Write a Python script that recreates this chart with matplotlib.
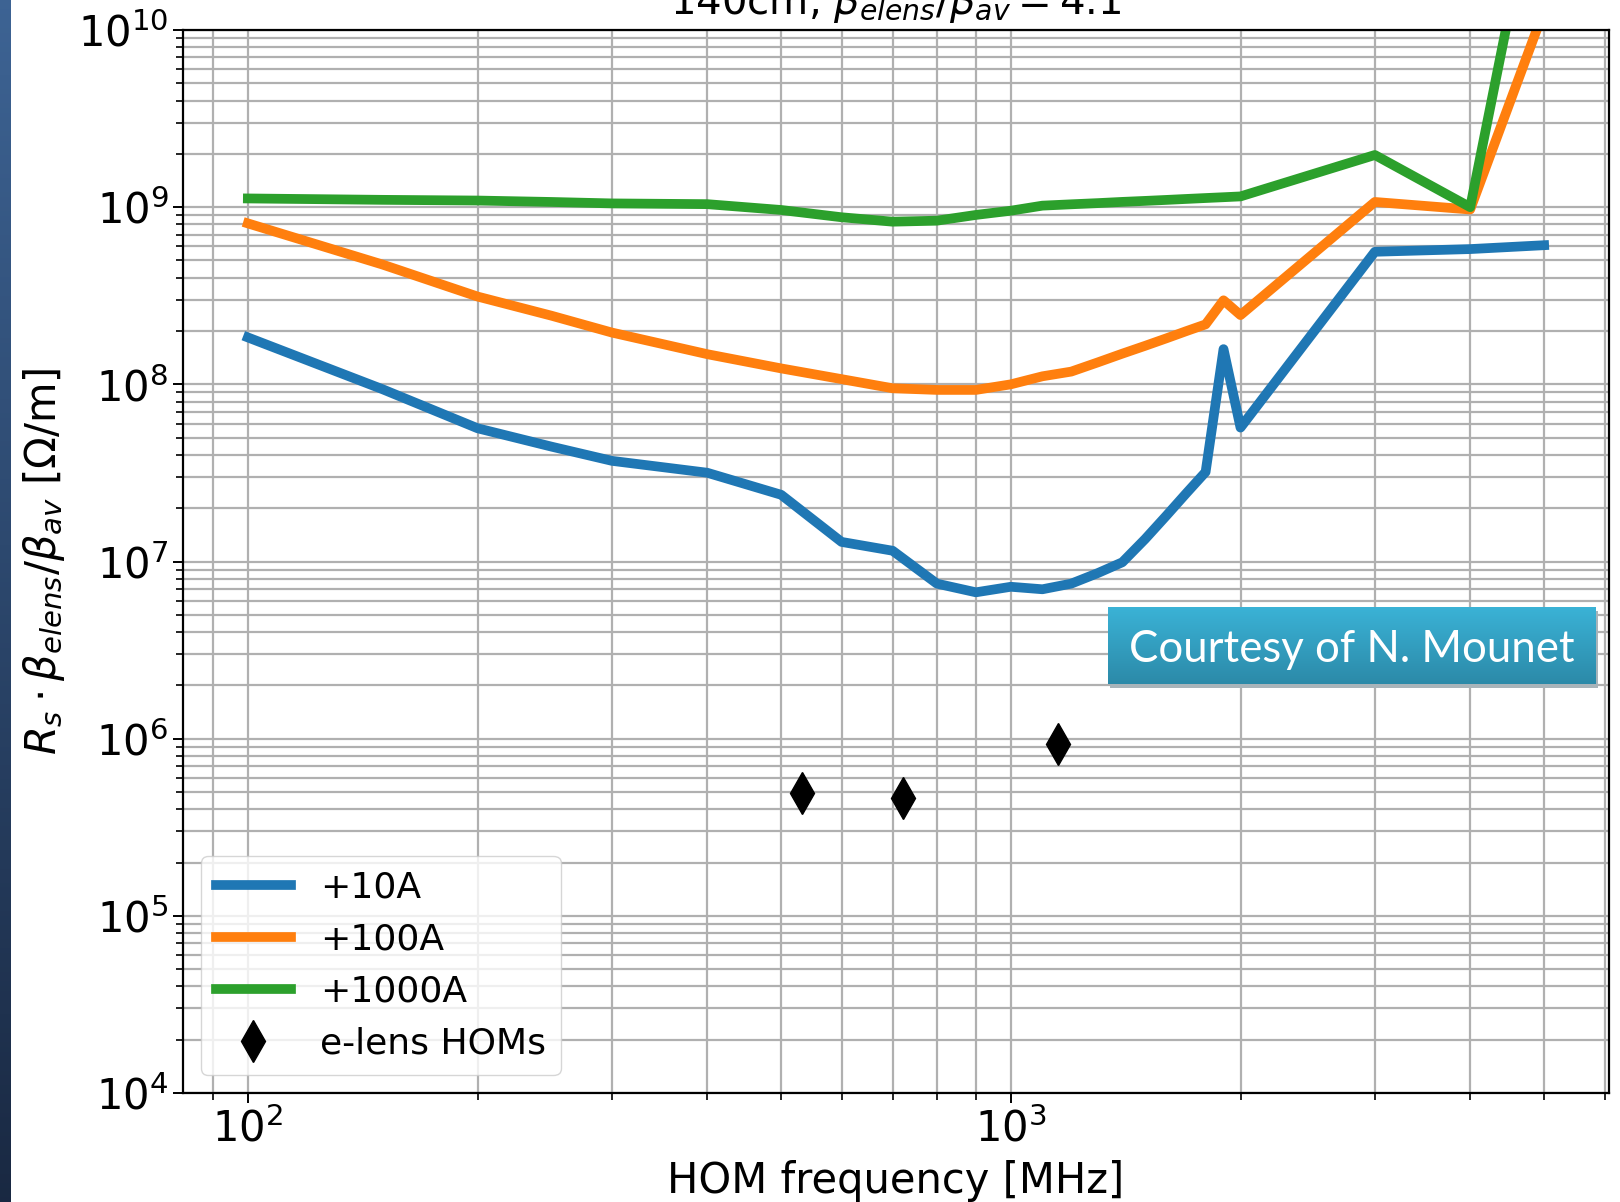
import matplotlib
matplotlib.use("Agg")
import matplotlib.pyplot as plt
import numpy as np

# HOM frequency grid [MHz]
freq = [100, 150, 200, 250, 300, 400, 500, 600, 700, 800, 900, 1000, 1100,
        1200, 1300, 1400, 1500, 1600, 1700, 1800, 1900, 2000, 3000, 4000, 5000]

# Rs * beta_elens / beta_av [Ohm/m]
rs_10A = [1.84e8, 9.4e7, 5.65e7, 4.45e7, 3.7e7, 3.17e7, 2.38e7, 1.29e7, 1.15e7,
          7.5e6, 6.7e6, 7.2e6, 6.97e6, 7.5e6, 8.6e6, 9.9e6, 1.34e7, 1.82e7,
          2.44e7, 3.2e7, 1.58e8, 5.7e7, 5.6e8, 5.8e8, 6.1e8]
rs_100A = [8.1e8, 4.75e8, 3.13e8, 2.44e8, 1.96e8, 1.48e8, 1.23e8, 1.07e8, 9.5e7,
           9.3e7, 9.3e7, 1.0e8, 1.11e8, 1.18e8, 1.33e8, 1.49e8, 1.65e8, 1.82e8,
           2.0e8, 2.18e8, 2.98e8, 2.46e8, 1.07e9, 9.7e8, 1.3e10]
rs_1000A = [1.12e9, 1.10e9, 1.09e9, 1.07e9, 1.05e9, 1.04e9, 9.64e8, 8.77e8, 8.28e8,
            8.39e8, 9.04e8, 9.55e8, 1.02e9, 1.038e9, 1.054e9, 1.071e9, 1.085e9,
            1.099e9, 1.113e9, 1.126e9, 1.138e9, 1.15e9, 1.97e9, 1.0e9, 1.2e11]

# e-lens HOMs
hom_freq = [533, 723, 1154]
hom_rs = [4.94e5, 4.63e5, 9.35e5]

fs = 30
plt.rcParams['font.family'] = ['DejaVu Sans']
plt.rcParams['mathtext.fontset'] = 'dejavusans'

fig = plt.figure(figsize=(16.2, 12.02), dpi=100)

# slide background strip on the left
strip = fig.add_axes([0, 0, 11 / 1620, 1])
grad = np.linspace(0, 1, 256)[:, None, None]
top = np.array([0.24, 0.39, 0.58])
bot = np.array([0.10, 0.16, 0.26])
strip.imshow(top * (1 - grad) + bot * grad, aspect='auto')
strip.axis('off')

ax = fig.add_axes([183 / 1620, 109 / 1202, 1426 / 1620, 1063 / 1202])
ax.plot(freq, rs_10A, color='#1f77b4', lw=7, label='+10A')
ax.plot(freq, rs_100A, color='#ff7f0e', lw=7, label='+100A')
ax.plot(freq, rs_1000A, color='#2ca02c', lw=7, label='+1000A')
ax.plot(hom_freq, hom_rs, 'kd', ms=21, label='e-lens HOMs')

ax.set_xscale('log')
ax.set_yscale('log')
ax.set_xlim(10**1.915, 10**3.784)
ax.set_ylim(1e4, 1e10)
ax.grid(True, which='both', color='#b0b0b0', lw=1.6)
ax.set_axisbelow(True)
for s in ax.spines.values():
    s.set_linewidth(1.6)
ax.tick_params(which='major', labelsize=fs, length=7, width=1.4)
ax.tick_params(which='minor', length=5, width=1.2)

ax.set_xlabel('HOM frequency [MHz]', fontsize=fs, labelpad=7)
ax.set_ylabel(r'$R_s \cdot \beta_{elens}/\beta_{av}$ [$\Omega$/m]', fontsize=fs,
              labelpad=8)
ax.legend(loc='lower left', fontsize=26, numpoints=1, handlelength=2.1)

fig.text(0.553, 1 - 14 / 1202, r'140cm, $\beta_{elens}/\beta_{av} = 4.1$',
         fontsize=29, ha='center', va='baseline')

# "Courtesy of" label box with a small shadow
shadow = fig.add_axes([1110 / 1620, 1 - 688 / 1202, 488 / 1620, 77 / 1202])
shadow.set_facecolor('#a8b4ba')
shadow.set_xticks([])
shadow.set_yticks([])
for s in shadow.spines.values():
    s.set_visible(False)
box = fig.add_axes([1108 / 1620, 1 - 684 / 1202, 488 / 1620, 77 / 1202])
c1 = np.array([0.23, 0.70, 0.84])
c2 = np.array([0.17, 0.54, 0.66])
box.imshow(c1 * (1 - grad) + c2 * grad, aspect='auto', extent=[0, 1, 0, 1])
box.axis('off')
box.text(0.5, 0.45, 'Courtesy of N. Mounet', color='white', fontsize=31.5,
         family=['Lato', 'DejaVu Sans'], ha='center', va='center',
         transform=box.transAxes)

fig.savefig('out.png', dpi=100)
